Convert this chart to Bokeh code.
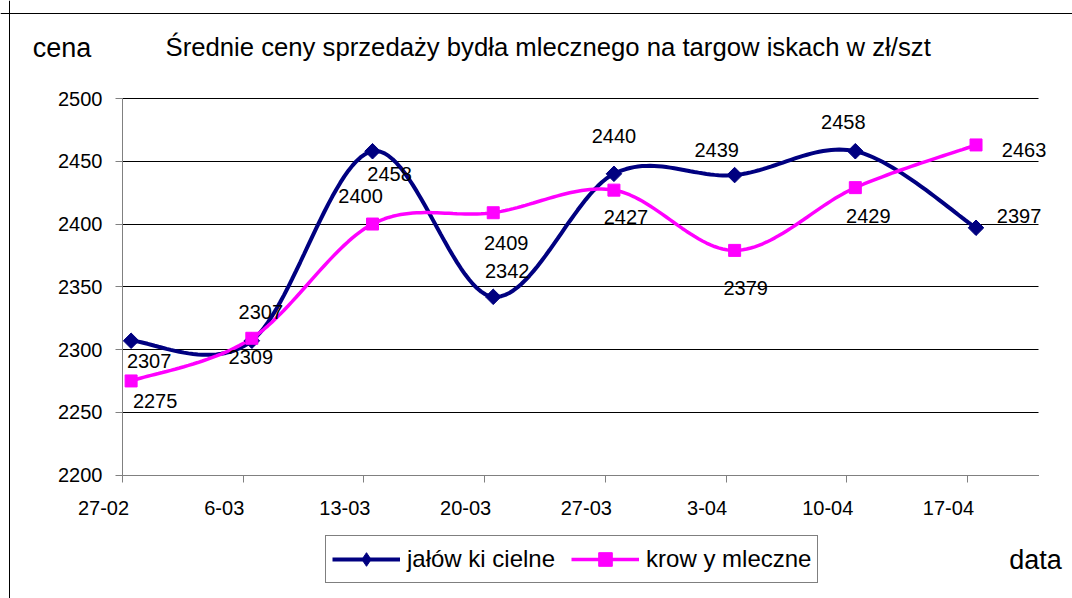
import numpy as np
from bokeh.plotting import figure
from bokeh.models import (FixedTicker, LinearAxis, Label, Legend, LegendItem, Span,
                          ColumnDataSource, Range1d, CustomJSTickFormatter, BoxAnnotation)
from bokeh.core.properties import value
from bokeh.embed import file_html
from bokeh.resources import INLINE

# ---------------- data ----------------
dates = ["27-02", "6-03", "13-03", "20-03", "27-03", "3-04", "10-04", "17-04"]
jalowki = [2307, 2307, 2458, 2342, 2440, 2439, 2458, 2397]
krowy = [2275, 2309, 2400, 2409, 2427, 2379, 2429, 2463]
series_names = ["jałów ki cielne", "krow y mleczne"]
title_text = "Średnie ceny sprzedaży bydła mlecznego na targow iskach w  zł/szt"
y_label_text = "cena"
x_label_text = "data"
y_ticks = [2200, 2250, 2300, 2350, 2400, 2450, 2500]

# ---------------- layout / style ----------------
FONT = "Liberation Sans"
NAVY = "#000080"
PINK = "#FF00FF"
DAY_STEP = 7
days = [i * DAY_STEP for i in range(len(dates))]
xpos = [d + 0.5 for d in days]          # point drawn in the middle of its day slot
X_END = 53.12                            # last day shown on the axis
Y_MIN, Y_MAX = y_ticks[0], y_ticks[-1]
LABEL_SHIFT = 1.1                        # tick labels sit left of their ticks (days)

# page geometry (pixels): the whole figure is the frame
W, H = 1072, 598
PAGE = 0
AX_LEFT_PX, AX_TOP_PX, AX_BOTTOM_PX = 122.0, 98.0, 474.6
PX_PER_DAY = 17.243
PX_PER_UNIT = (AX_BOTTOM_PX - AX_TOP_PX) / (Y_MAX - Y_MIN)


def px2x(px):
    return (px - AX_LEFT_PX) / PX_PER_DAY


def px2y(py):
    return Y_MAX - (py - AX_TOP_PX) / PX_PER_UNIT


# label offsets in screen pixels (dx, dy-down)
navy_dx = [18, 9, 17, 14, 0, -18, -12, 43]
navy_dy = [20, -29, 23, -26, -38, -25, -29, -12]
pink_dx = [24, -1, -12, 13, 12, 11, 13, 48]
pink_dy = [20, 19, -28, 30, 27, 38, 28, 5]


def smooth(xs, ys, n=30):
    """Bezier smoothing of a polyline (Excel-style smoothed line)."""
    P = list(zip(xs, ys))
    ox, oy = [], []
    for i in range(len(P) - 1):
        p0 = P[i - 1] if i > 0 else P[i]
        p1, p2 = P[i], P[i + 1]
        p3 = P[i + 2] if i + 2 < len(P) else P[i + 1]
        c1 = (p1[0] + (p2[0] - p0[0]) / 6, p1[1] + (p2[1] - p0[1]) / 6)
        c2 = (p2[0] - (p3[0] - p1[0]) / 6, p2[1] - (p3[1] - p1[1]) / 6)
        t = np.linspace(0, 1, n, endpoint=(i == len(P) - 2))
        a = (1 - t) ** 3
        b = 3 * (1 - t) ** 2 * t
        c = 3 * (1 - t) * t ** 2
        d = t ** 3
        ox.extend(a * p1[0] + b * c1[0] + c * c2[0] + d * p2[0])
        oy.extend(a * p1[1] + b * c1[1] + c * c2[1] + d * p2[1])
    return ox, oy


p = figure(width=W, height=H,
           x_range=Range1d(px2x(PAGE), px2x(PAGE + W)),
           y_range=Range1d(px2y(PAGE + H), px2y(PAGE)),
           output_backend="svg", toolbar_location=None, min_border=0)
p.outline_line_color = None
p.background_fill_color = "white"
p.border_fill_color = "white"

# grid (only across the plot area)
p.xgrid.visible = False
p.ygrid.ticker = FixedTicker(ticks=y_ticks)
p.ygrid.grid_line_color = "#000000"
p.ygrid.grid_line_width = 1
try:
    p.ygrid.cross_bounds = (0, X_END)
except AttributeError:
    for lo, hi in ((None, 0), (X_END, None)):
        p.add_layout(BoxAnnotation(left=lo, right=hi, bottom=Y_MIN - 5, top=Y_MAX + 5,
                                   fill_color="white", fill_alpha=1, line_color=None,
                                   level="underlay"))

# y axis
ya = p.yaxis[0]
ya.fixed_location = 0
ya.bounds = (Y_MIN, Y_MAX)
ya.ticker = FixedTicker(ticks=y_ticks)
ya.axis_line_color = "#808080"
ya.major_tick_line_color = "#808080"
ya.major_tick_out = 7
ya.major_tick_in = 0
ya.minor_tick_line_color = None
ya.major_label_text_font = FONT
ya.major_label_text_font_size = "20px"
ya.major_label_text_color = "#000000"
ya.major_label_standoff = 13

# x axis: tick marks
xa = p.xaxis[0]
xa.fixed_location = Y_MIN
xa.bounds = (0, X_END)
xa.ticker = FixedTicker(ticks=days)
xa.formatter = CustomJSTickFormatter(code="return ''")
xa.axis_line_color = "#808080"
xa.major_tick_line_color = "#808080"
xa.major_tick_out = 7
xa.major_tick_in = 0
xa.minor_tick_line_color = None
xa.major_label_standoff = 0

# x axis: tick labels (shifted left of the ticks, as in the original)
xl = LinearAxis(ticker=FixedTicker(ticks=[d - LABEL_SHIFT for d in days]),
                formatter=CustomJSTickFormatter(
                    args=dict(labs=dates, shift=LABEL_SHIFT, step=DAY_STEP),
                    code="return labs[Math.round((tick + shift) / step)]"),
                fixed_location=Y_MIN)
xl.axis_line_color = None
xl.major_tick_line_color = None
xl.minor_tick_line_color = None
xl.major_tick_out = 0
xl.major_tick_in = 0
xl.major_label_text_font = FONT
xl.major_label_text_font_size = "20px"
xl.major_label_text_color = "#000000"
xl.major_label_standoff = 26
p.add_layout(xl, "below")

# series
jx, jy = smooth(xpos, jalowki)
kx, ky = smooth(xpos, krowy)
l1 = p.line(jx, jy, line_color=NAVY, line_width=4)
l2 = p.line(kx, ky, line_color=PINK, line_width=3.5)
# diamond key for the legend (legend glyphs are never rotated); hidden under m1
m1_key = p.scatter(xpos, jalowki, marker="diamond", size=14,
                   fill_color=NAVY, line_color=NAVY)
m1 = p.scatter(xpos, jalowki, marker="square", angle=np.pi / 4, size=11,
               fill_color=NAVY, line_color=NAVY)
m2 = p.scatter(xpos, krowy, marker="square", size=12,
               fill_color=PINK, line_color=PINK)

# data labels
for vals, dx, dy in ((jalowki, navy_dx, navy_dy), (krowy, pink_dx, pink_dy)):
    src = ColumnDataSource(dict(x=xpos, y=vals, t=[str(v) for v in vals], dx=dx, dy=dy))
    p.text(x="x", y="y", text="t", x_offset="dx", y_offset="dy", source=src,
           text_align="center", text_baseline="middle",
           text_font=value(FONT), text_font_size="20px", text_color="#000000")

# texts: title, axis names
p.add_layout(Label(x=px2x(165), y=px2y(46), text=title_text,
                   text_align="left", text_baseline="middle",
                   text_font=FONT, text_font_size="25.7px", text_color="#000000"))
p.add_layout(Label(x=px2x(61.5), y=px2y(47), text=y_label_text,
                   text_align="center", text_baseline="middle",
                   text_font=FONT, text_font_size="27px", text_color="#000000"))
p.add_layout(Label(x=px2x(1035), y=px2y(559), text=x_label_text,
                   text_align="center", text_baseline="middle",
                   text_font=FONT, text_font_size="27px", text_color="#000000"))

# chart border (left and top edges are visible in the original)
p.add_layout(Span(location=px2x(9), dimension="height", line_color="#000000", line_width=1))
p.add_layout(Span(location=px2y(13), dimension="width", line_color="#000000", line_width=1))

# legend
legend = Legend(items=[LegendItem(label=series_names[0], renderers=[l1, m1_key]),
                       LegendItem(label=series_names[1], renderers=[l2, m2])],
                orientation="horizontal", location=(325 - PAGE, PAGE + H - 583))
legend.label_text_font = FONT
legend.label_text_font_size = "24px"
legend.label_text_color = "#000000"
legend.glyph_width = 68
legend.glyph_height = 34
legend.label_standoff = 7
legend.spacing = 16
legend.padding = 6
legend.margin = 0
legend.border_line_color = "#000000"
legend.border_line_width = 1
legend.background_fill_color = "white"
legend.background_fill_alpha = 1
p.add_layout(legend, "center")

open("out.html", "w").write(file_html(p, INLINE))
